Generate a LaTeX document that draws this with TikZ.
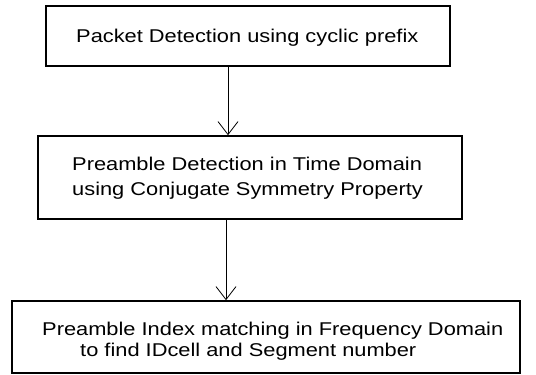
\documentclass[tikz,border=0pt]{standalone}
\usepackage{fontspec}
\setmainfont{Liberation Sans}[FakeStretch=1.18]
\usetikzlibrary{arrows.meta}
\begin{document}
\begin{tikzpicture}[x=1pt,y=-1pt,
  box/.style={draw, line width=1.6pt, inner sep=0pt},
  txt/.style={font=\fontsize{18.5}{25}\selectfont, align=left, inner sep=0pt, anchor=west},
  arr/.style={-{Straight Barb[length=13pt,width=20pt,line width=0.8pt]}, line width=0.8pt}]
\useasboundingbox (0,0) rectangle (536,375);
\node[box, minimum width=404pt, minimum height=60pt] (b1) at (248,36) {};
\node[box, minimum width=424pt, minimum height=83pt] (b2) at (250,177.5) {};
\node[box, minimum width=508pt, minimum height=72pt] (b3) at (266,337) {};
\node[txt] (t1) at (76,38) {Packet Detection using cyclic prefix};
\node[txt] (t2) at (72,178) {Preamble Detection in Time Domain\\using Conjugate Symmetry Property};
\node[txt] (t3a) at (42,331) {Preamble Index matching in Frequency Domain};
\node[txt] (t3b) at (80,352) {to find IDcell and Segment number};
\draw[arr] ([xshift=-20pt]b1.south) -- ([xshift=-20pt]b1.south |- b2.north);
\draw[arr] ([xshift=-24pt]b2.south) -- ([xshift=-24pt]b2.south |- b3.north);
\end{tikzpicture}
\end{document}
